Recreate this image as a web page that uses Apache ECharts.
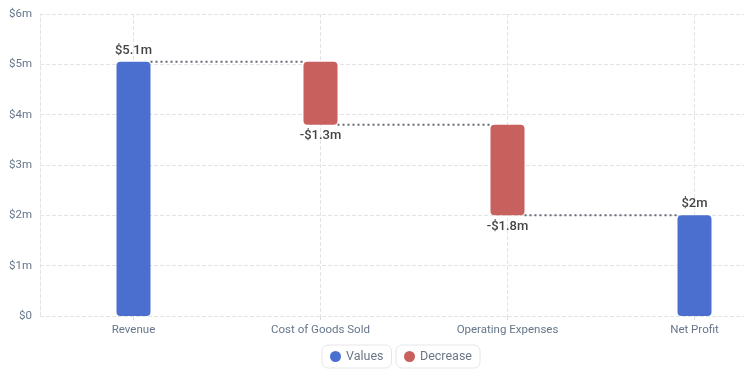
<!DOCTYPE html>
<html>
<head>
<meta charset="utf-8">
<script src="https://cdn.jsdelivr.net/npm/echarts@6/dist/echarts.min.js"></script>
<style>html,body{margin:0;padding:0;background:#fff;overflow:hidden;width:744px;height:382px}#c{width:788px;height:382px}</style>
</head>
<body>
<div id="c"></div>
<script>
const categories = ['Revenue', 'Cost of Goods Sold', 'Operating Expenses', 'Net Profit'];
const values = [5.05, null, null, 2.0];
const decreases = [null, 1.25, 1.8, null];
const yTicks = [0, 1, 2, 3, 4, 5, 6];

// running totals for the waterfall
const tops = [];
let running = 0;
categories.forEach((c, i) => {
  if (values[i] != null) { running = values[i]; tops.push(running); }
  else { tops.push(running); running = running - decreases[i]; }
});
const base = categories.map((c, i) => decreases[i] != null ? tops[i] - decreases[i] : 0);
const ends = categories.map((c, i) => values[i] != null ? values[i] : tops[i] - decreases[i]);
const connectors = [];
for (let i = 0; i < categories.length - 1; i++) connectors.push([i, ends[i], i + 1]);

function fmt(v) {
  const r = Math.round(v * 10) / 10;
  return '$' + (Number.isInteger(r) ? r : r.toFixed(1)) + 'm';
}
const FONT = 'Roboto, Inter, sans-serif';
const BW = 34;

const chart = echarts.init(document.getElementById('c'));
chart.setOption({
  animation: false,
  textStyle: { fontFamily: FONT },
  grid: { left: 40, right: 0, top: 14, bottom: 66, containLabel: false },
  legend: [
    { data: ['Values'], left: 322, top: 345, icon: 'circle', itemWidth: 11, itemHeight: 11, itemGap: 7,
      padding: [5, 8], borderColor: '#e6e6e6', borderWidth: 1, borderRadius: 6, backgroundColor: '#fff',
      textStyle: { color: '#6b7687', fontSize: 12.5, fontFamily: FONT } },
    { data: ['Decrease'], left: 396, top: 345, icon: 'circle', itemWidth: 11, itemHeight: 11, itemGap: 7,
      padding: [5, 8], borderColor: '#e6e6e6', borderWidth: 1, borderRadius: 6, backgroundColor: '#fff',
      textStyle: { color: '#6b7687', fontSize: 12.5, fontFamily: FONT } }
  ],
  xAxis: {
    type: 'category',
    data: categories,
    axisLine: { show: false },
    axisTick: { show: true, alignWithLabel: true, length: 4, lineStyle: { color: '#dcdcdc' } },
    splitLine: { show: true, alignWithLabel: true, lineStyle: { type: 'dashed', color: '#e4e4e4' } },
    axisLabel: { color: '#66768a', fontSize: 11.5, margin: 8, fontFamily: FONT }
  },
  yAxis: {
    type: 'value',
    min: yTicks[0], max: yTicks[yTicks.length - 1], interval: 1,
    axisLine: { show: true, lineStyle: { type: 'dashed', color: '#e4e4e4' } },
    axisTick: { show: false },
    splitLine: { lineStyle: { type: 'dashed', color: '#e4e4e4' } },
    axisLabel: { color: '#66768a', fontSize: 11.5, margin: 8, fontFamily: FONT,
      formatter: v => v === 0 ? '$0' : '$' + v + 'm' }
  },
  series: [
    {
      type: 'custom',
      name: 'connector',
      z: 1,
      silent: true,
      data: connectors,
      renderItem: function (params, api) {
        const p1 = api.coord([api.value(0), api.value(1)]);
        const p2 = api.coord([api.value(2), api.value(1)]);
        return {
          type: 'line',
          shape: { x1: p1[0] + BW / 2, y1: p1[1], x2: p2[0] - BW / 2, y2: p2[1] },
          style: { stroke: '#666b75', lineWidth: 2, lineDash: [2, 3] }
        };
      }
    },
    {
      type: 'bar', name: 'base', stack: 'w', barWidth: BW, silent: true,
      itemStyle: { color: 'transparent' }, data: base, z: 2
    },
    {
      type: 'bar', name: 'Values', stack: 'w', barWidth: BW, z: 2,
      itemStyle: { color: '#4a6fcf', borderRadius: 4 },
      label: { show: true, position: 'top', distance: 5, color: '#444', fontSize: 13, fontWeight: 500, fontFamily: FONT,
        formatter: p => fmt(p.value) },
      data: values.map(v => v == null ? '-' : v)
    },
    {
      type: 'bar', name: 'Decrease', stack: 'w', barWidth: BW, z: 2,
      itemStyle: { color: '#c8605e', borderRadius: 4 },
      label: { show: true, position: 'bottom', distance: 5, color: '#444', fontSize: 13, fontWeight: 500, fontFamily: FONT,
        formatter: p => '-' + fmt(p.value) },
      data: decreases.map(v => v == null ? '-' : v)
    }
  ]
});
</script>
</body>
</html>
